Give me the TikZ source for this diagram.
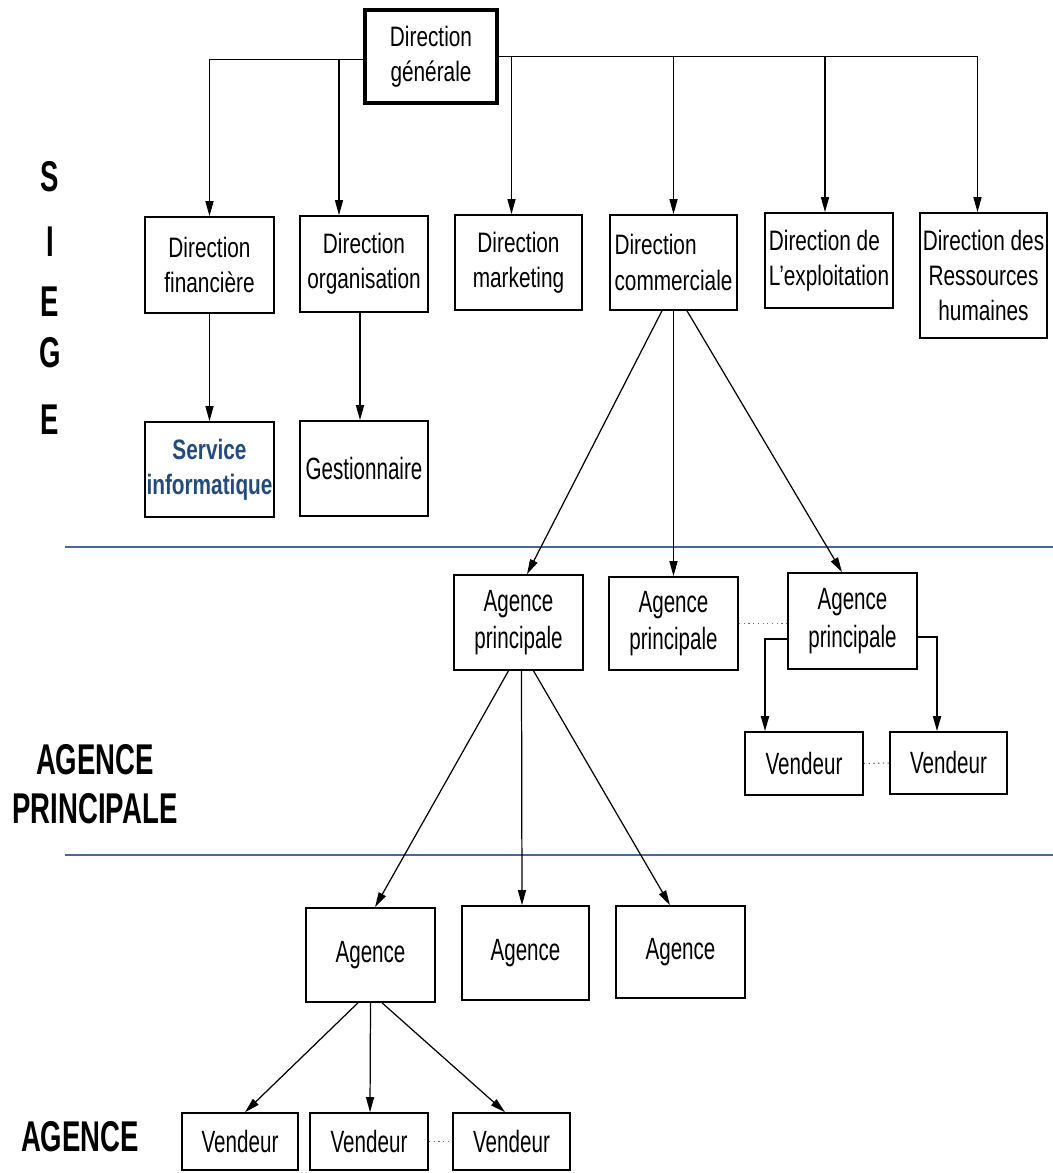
\documentclass[tikz,border=0pt]{standalone}
\usepackage{fontspec}
\setmainfont{Liberation Sans}
\newfontfamily\fD[FakeStretch=0.74]{Liberation Sans}
\newfontfamily\fA[FakeStretch=0.67]{Liberation Sans}
\newfontfamily\fL[FakeStretch=0.64]{Liberation Sans}
\usetikzlibrary{arrows.meta,calc}
\definecolor{barblue}{RGB}{70,105,150}
\definecolor{svcblue}{RGB}{35,75,125}
\begin{document}
\begin{tikzpicture}[x=0.02cm,y=-0.02cm,
  box/.style={draw, line width=0.9pt, inner sep=0pt, align=center},
  wh/.style 2 args={minimum width=#1*0.02cm, minimum height=#2*0.02cm},
  dtext/.style={font=\fD\fontsize{16}{20}\selectfont},
  atext/.style={font=\fA\fontsize{17.5}{21.5}\selectfont},
  lab/.style={font=\fL\bfseries\fontsize{24.5}{28}\selectfont, inner sep=0pt},
  conn/.style={line width=0.7pt, -{Triangle[length=0.3cm,width=0.16cm]}},
  dots/.style={dotted, line width=0.7pt, black!60},
  bar/.style={line width=1.6pt, barblue}]
\useasboundingbox (0,0) rectangle (1053,1173);

% separators
\coordinate (b1l) at (65,547); \coordinate (b1r) at (1053,547);
\coordinate (b2l) at (65,855); \coordinate (b2r) at (1053,855);
\draw[bar] (b1l) -- (b1r);
\draw[bar] (b2l) -- (b2r);

% side labels
\node[lab] (s1) at (50,177) {S};
\node[lab] (s2) at (50,242) {I};
\node[lab] (s3) at (50,302) {E};
\node[lab] (s4) at (50,353) {G};
\node[lab] (s5) at (50,420) {E};
\node[lab] (ap) at (95,760) {AGENCE};
\node[lab] (pr) at (95,809) {PRINCIPALE};
\node[lab] (ag) at (80,1137) {AGENCE};

% siege
\node[box, wh={132}{93}, line width=2pt, dtext] (dg) at (431,56.5) {Direction\\générale};
\node[box, wh={129}{96}, dtext] (df) at (209.5,265) {Direction\\financière};
\node[box, wh={128}{96}, dtext] (do) at (364,264) {Direction\\organisation};
\node[box, wh={127}{95}, dtext] (dm) at (518.5,262.5) {Direction\\marketing};
\node[box, wh={127}{95}, dtext, align=left] (dc) at (673.5,262.5) {Direction\\commerciale};
\node[box, wh={128}{95}, dtext, align=left] (de) at (829,260.5) {Direction de\\L’exploitation};
\node[box, wh={127}{125}, dtext] (drh) at (983.5,275.5) {Direction des\\Ressources\\humaines};
\node[box, wh={129}{95}, dtext, font=\fD\bfseries\fontsize{16}{20}\selectfont, text=svcblue] (si) at (209.5,469.5) {Service\\informatique};
\node[box, wh={128}{95}, atext] (ge) at (364,468.5) {Gestionnaire};

% agences principales
\node[box, wh={129}{95}, atext] (ap1) at (518.5,622.5) {Agence\\principale};
\node[box, wh={129}{93}, atext] (ap2) at (673.5,623.5) {Agence\\principale};
\node[box, wh={129}{96}, atext] (ap3) at (852.5,621) {Agence\\principale};
\node[box, wh={118}{63}, atext] (v1) at (804,763.5) {Vendeur};
\node[box, wh={117}{62}, atext] (v2) at (948.5,763) {Vendeur};

% agences
\node[box, wh={129}{94}, atext] (ag1) at (370.5,955) {Agence};
\node[box, wh={127}{94}, atext] (ag2) at (525.5,953) {Agence};
\node[box, wh={129}{92}, atext] (ag3) at (680.5,952) {Agence};
\node[box, wh={116}{57}, atext] (bv1) at (240,1141.5) {Vendeur};
\node[box, wh={118}{57}, atext] (bv2) at (369,1141.5) {Vendeur};
\node[box, wh={117}{57}, atext] (bv3) at (511.5,1141.5) {Vendeur};

% connectors from direction generale
\draw[conn] ($(dg.west)+(0,3)$) -| (df.north);
\draw[conn] (dg.east) -| ($(drh.north)+(-6,0)$);
\draw[conn] ($(do.north |- dg.west)+(-25,3)$) -- ($(do.north)+(-25,0)$);
\draw[conn] ($(dm.north |- dg.east)+(-7,0)$) -- ($(dm.north)+(-7,0)$);
\draw[conn] (dc.north |- dg.east) -- (dc.north);
\draw[conn] ($(de.north |- dg.east)+(-4,0)$) -- ($(de.north)+(-4,0)$);

\draw[conn] (df) -- (si);
\draw[conn] ($(do.south)+(-4,0)$) -- ($(ge.north)+(-4,0)$);

% direction commerciale to agences principales
\draw[conn] ($(dc.south)+(-11.5,0)$) -- ($(ap1.north)+(8.5,0)$);
\draw[conn] (dc.south) -- (ap2.north);
\draw[conn] ($(dc.south)+(13.5,0)$) -- ($(ap3.north)+(-10.5,0)$);
\draw[dots] (ap2.east) -- (ap3.west |- ap2.east);

% agence principale 3 to vendeurs
\draw[conn, line width=1pt] ($(ap3.west)+(0,18)$) -| ($(v1.north)+(-39,0)$);
\draw[conn, line width=1pt] ($(ap3.east)+(0,16)$) -| ($(v2.north)+(-11.5,0)$);
\draw[dots] (v1.east) -- (v2.west);

% agence principale 1 to agences
\draw[conn] ($(ap1.south)+(-10,0)$) -- ($(ag1.north)+(4.5,0)$);
\draw[conn] ($(ap1.south)+(3,0)$) -- ($(ag2.north)+(-3.5,0)$);
\draw[conn] ($(ap1.south)+(15,0)$) -- ($(ag3.north)+(-10.5,0)$);

% agence 1 to vendeurs
\draw[conn] ($(ag1.south)+(-12.5,0)$) -- ($(bv1.north)+(5,0)$);
\draw[conn] (ag1.south) -- ($(bv2.north)+(1,0)$);
\draw[conn] ($(ag1.south)+(11.5,0)$) -- ($(bv3.north)+(-6.5,0)$);
\draw[dots] (bv2.east) -- (bv3.west);
\end{tikzpicture}
\end{document}
